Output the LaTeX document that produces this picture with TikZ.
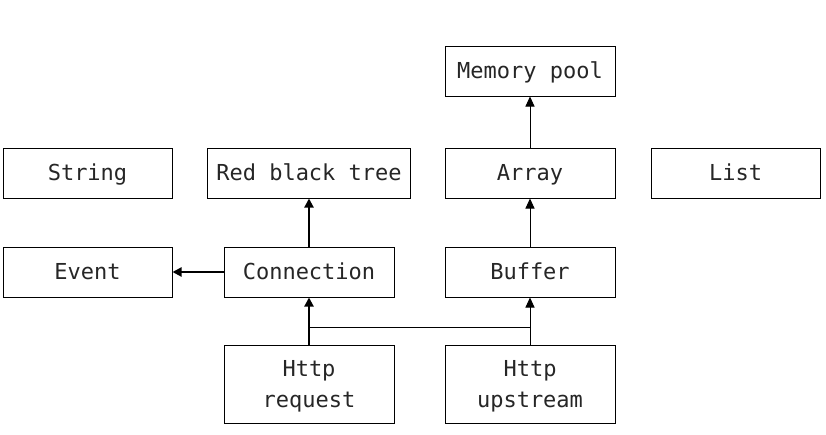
\documentclass[tikz,border=0pt]{standalone}
\usepackage{fontspec}
\setmonofont{DejaVu Sans Mono}
\usetikzlibrary{arrows.meta}
\begin{document}
\begin{tikzpicture}[x=1pt,y=-1pt,
  box/.style={draw=black,line width=1pt,fill=white,inner sep=0pt,align=center,
    font=\ttfamily\fontsize{22}{31}\selectfont,text=black!85,
    text height=18pt,text depth=2.5pt},
  twoline/.style={text height=50pt,text depth=3.5pt},
  thinarrow/.style={line width=1pt,-{Triangle[length=10pt,width=9pt]}},
  thickarrow/.style={line width=2pt,-{Triangle[length=9pt,width=9pt]}},
  thinline/.style={line width=1pt}]
\useasboundingbox (0,0) rectangle (826,434);
\fill[white] (0,0) rectangle (826,434);
\node[box,minimum width=170pt,minimum height=50pt] (mem) at (530,71) {Memory pool};
\node[box,minimum width=169pt,minimum height=50pt] (str) at (87.5,173) {String};
\node[box,minimum width=203pt,minimum height=50pt] (rbt) at (309,173) {Red black tree};
\node[box,minimum width=170pt,minimum height=50pt] (arr) at (530,173) {Array};
\node[box,minimum width=169pt,minimum height=50pt] (lst) at (735.5,173) {List};
\node[box,minimum width=169pt,minimum height=50pt] (evt) at (87.5,272) {Event};
\node[box,minimum width=170pt,minimum height=50pt] (con) at (309,272) {Connection};
\node[box,minimum width=170pt,minimum height=50pt] (buf) at (530,272) {Buffer};
\node[box,twoline,minimum width=170pt,minimum height=78pt] (req) at (309,384.5) {Http\\request};
\node[box,twoline,minimum width=170pt,minimum height=78pt] (ups) at (530,384.5) {Http\\upstream};
\coordinate (j1) at (309,327);
\coordinate (j2) at (530,327);
\draw[thickarrow] (req) -- (con);
\draw[thickarrow] (con) -- (rbt);
\draw[thickarrow] (con) -- (evt);
\draw[thinarrow] (ups) -- (buf);
\draw[thinline] (j1) -- (j2);
\draw[thinarrow] (buf) -- (arr);
\draw[thinarrow] (arr) -- (mem);
\end{tikzpicture}
\end{document}
